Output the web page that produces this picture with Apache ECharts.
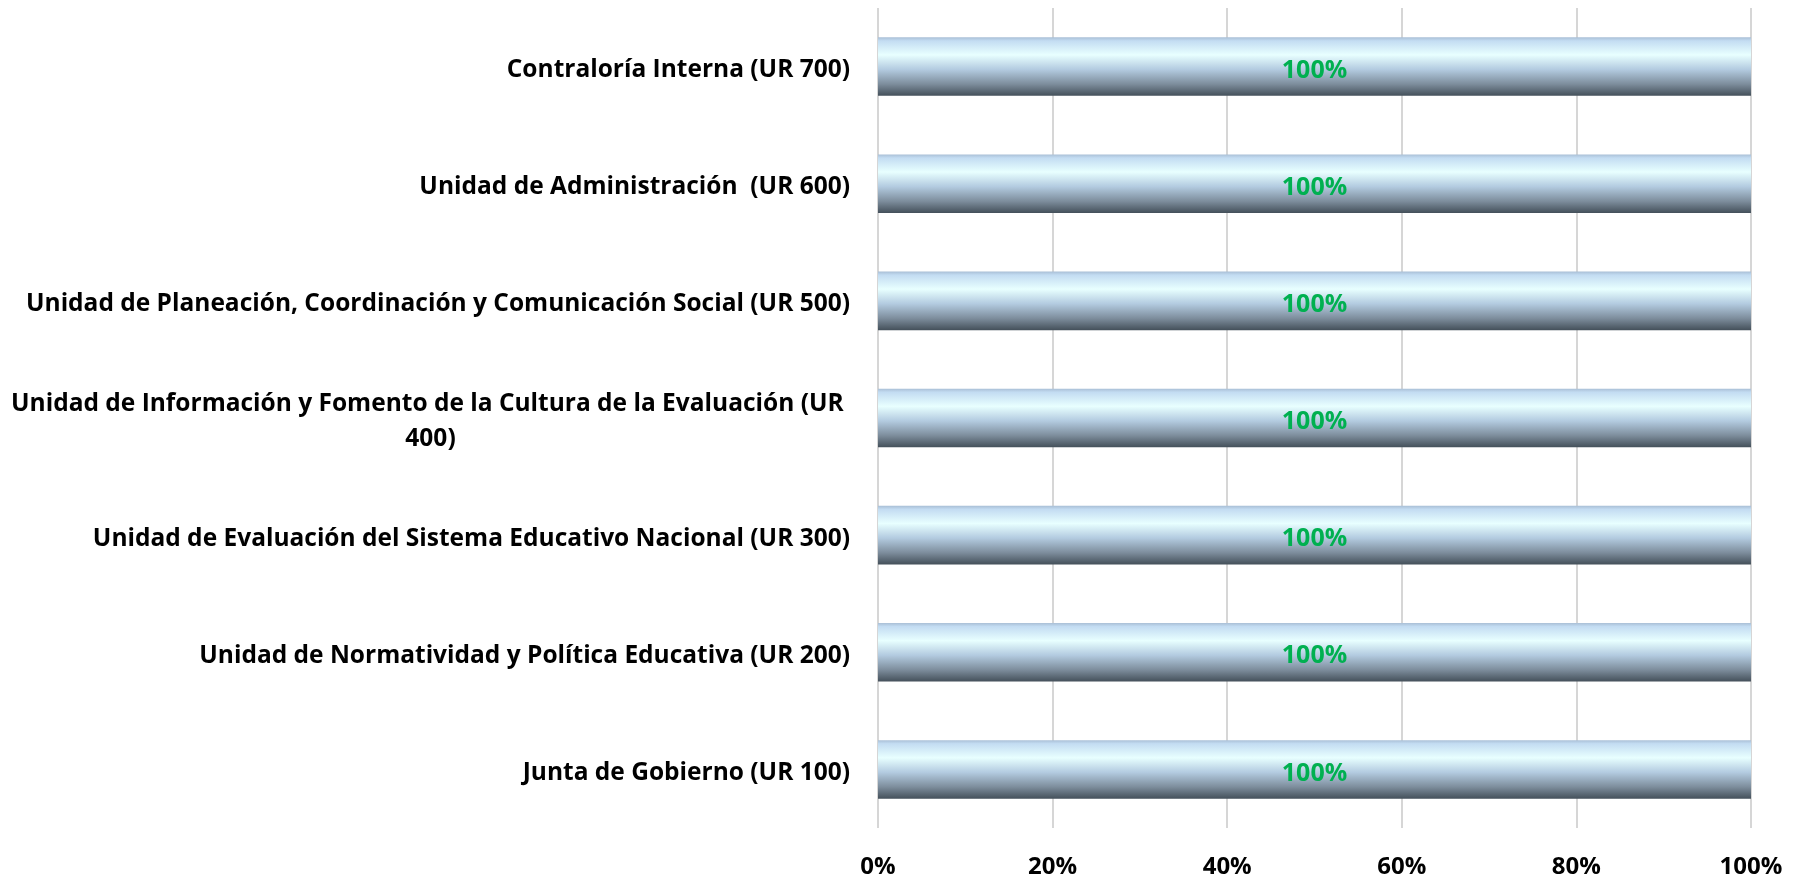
<!DOCTYPE html>
<html>
<head>
<meta charset="utf-8">
<title>Avance por Unidad Responsable</title>
<script src="https://cdn.jsdelivr.net/npm/echarts@6/dist/echarts.min.js"></script>
<style>
  html, body { margin: 0; padding: 0; background: #fff; }
  #chart { width: 1802px; height: 879px; }
</style>
</head>
<body>
<div id="chart"></div>
<script>
// categorias de arriba hacia abajo
const categories = [
    "Contraloría Interna (UR 700)",
    "Unidad de Administración  (UR 600)",
    "Unidad de Planeación, Coordinación y Comunicación Social (UR 500)",
    "Unidad de Información y Fomento de la Cultura de la Evaluación (UR 400)",
    "Unidad de Evaluación del Sistema Educativo Nacional (UR 300)",
    "Unidad de Normatividad y Política Educativa (UR 200)",
    "Junta de Gobierno (UR 100)"
];
const avance = [100, 100, 100, 100, 100, 100, 100];
const xTicks = [0, 20, 40, 60, 80, 100];

const FONT = "'Open Sans', 'Noto Sans', sans-serif";

const chart = echarts.init(document.getElementById("chart"));

const barGradient = new echarts.graphic.LinearGradient(0, 0, 0, 1, [
    { offset: 0, color: "#a9bfd6" },
    { offset: 0.06, color: "#c3dcf2" },
    { offset: 0.3, color: "#e8ffff" },
    { offset: 0.55, color: "#b3cbe0" },
    { offset: 0.8, color: "#7d8d9c" },
    { offset: 1, color: "#44505a" }
]);

chart.setOption({
    animation: false,
    grid: { left: 878, right: 51, top: 8, bottom: 50 },
    xAxis: {
        type: "value",
        min: xTicks[0],
        max: xTicks[xTicks.length - 1],
        interval: 20,
        axisLine: { show: false },
        axisTick: { show: false },
        splitLine: { show: true, lineStyle: { color: "#d6d6d6", width: 2 } },
        axisLabel: {
            formatter: "{value}%",
            color: "#000",
            fontFamily: FONT,
            fontWeight: "bold",
            fontSize: 24,
            margin: 27
        }
    },
    yAxis: {
        type: "category",
        inverse: true,
        data: categories,
        axisLine: { show: false },
        axisTick: { show: false },
        axisLabel: {
            margin: 28,
            padding: [7, 0, 0, 0],
            color: "#000",
            fontFamily: FONT,
            fontWeight: "bold",
            fontSize: 24.5,
            formatter: function (val) {
                // la etiqueta larga se parte en dos lineas como en el original
                if (val.indexOf("Cultura de la Evaluación") >= 0) {
                    return "{a|Unidad de Información y Fomento de la Cultura de la Evaluación (UR }\n{b|400)}";
                }
                return "{a|" + val + "}";
            },
            rich: {
                a: { fontFamily: FONT, fontWeight: "bold", fontSize: 24.5, color: "#000", lineHeight: 35 },
                b: { fontFamily: FONT, fontWeight: "bold", fontSize: 24.5, color: "#000", lineHeight: 35, align: "center" }
            }
        }
    },
    series: [{
        type: "bar",
        data: avance,
        barWidth: "50%",
        itemStyle: { color: barGradient },
        label: {
            show: true,
            position: "inside",
            offset: [0, 4],
            formatter: "{c}%",
            color: "#00b050",
            fontFamily: FONT,
            fontWeight: "bold",
            fontSize: 25
        }
    }]
});

window.addEventListener("resize", () => chart.resize());
</script>
</body>
</html>
